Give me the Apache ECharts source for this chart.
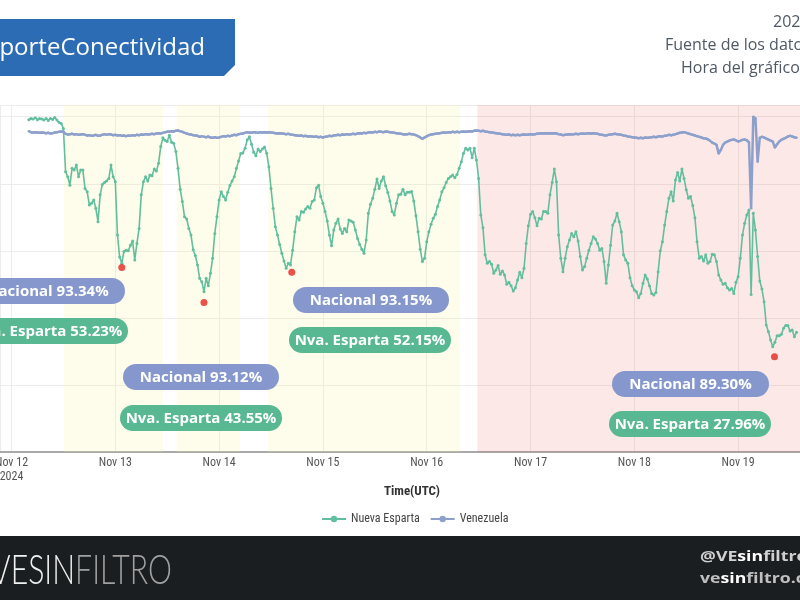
<!DOCTYPE html>
<html><head><meta charset="utf-8">
<script src="https://cdn.jsdelivr.net/npm/echarts@6/dist/echarts.min.js"></script>
<style>html,body{margin:0;padding:0;background:#fff}#c{width:800px;height:600px}</style>
</head><body><div id="c"></div>
<script>
// ---- data ----
const seriesStart = '2024-11-12T04:00:00Z';
const stepMinutes = 30;
const nuevaEsparta = [
99.1,99.5,99.3,99.7,99.1,99.5,99.3,99.0,99.5,98.9,99.5,99.2,99.8,99.0,98.3,98.0,
96.5,83.6,82.1,79.6,84.6,84.1,85.6,82.1,84.1,84.1,78.6,77.6,73.7,74.2,75.2,72.7,
68.7,76.7,79.8,80.4,80.8,81.6,85.6,82.1,80.6,64.7,58.2,56.3,59.8,60.2,60.0,61.7,
62.9,57.3,62.2,66.7,76.7,80.6,82.1,80.8,82.6,82.4,84.4,83.8,86.1,91.1,93.7,93.0,
92.6,94.5,92.4,92.1,89.6,84.6,78.4,74.7,70.2,69.5,66.7,64.7,60.3,58.6,55.8,51.8,
50.8,47.8,51.8,49.6,53.3,57.8,65.2,70.2,75.2,77.6,76.2,75.2,77.5,79.5,80.8,82.1,
84.6,86.8,89.0,89.2,90.6,93.1,94.0,91.8,89.4,88.4,90.4,89.6,90.4,91.0,89.1,85.1,
78.6,72.7,67.2,64.7,61.9,59.3,57.0,54.8,56.3,55.8,60.2,65.7,70.2,69.2,71.7,71.5,
72.5,73.2,72.7,74.7,75.2,78.8,79.6,76.2,74.2,71.7,68.9,64.7,61.5,66.2,68.2,69.5,
66.5,65.2,66.7,65.7,69.2,68.9,68.5,66.2,63.7,61.9,60.5,59.3,63.2,71.2,73.9,75.7,
78.4,81.4,78.6,80.8,82.1,79.4,77.4,74.9,71.7,70.7,74.2,76.7,76.9,78.4,76.7,77.5,
77.5,77.7,74.9,70.5,65.7,60.5,56.8,57.8,62.7,65.7,67.9,69.7,70.9,73.2,75.2,77.6,
78.8,80.4,81.6,82.1,82.6,81.8,82.8,84.6,86.6,89.1,90.6,90.1,90.6,87.8,90.6,87.1,
81.6,70.7,66.9,58.8,56.3,56.8,56.0,53.3,54.3,55.6,53.0,54.0,52.8,50.0,50.6,49.6,
48.0,49.0,51.3,53.6,52.0,54.8,62.2,67.5,70.9,71.7,69.9,67.5,69.7,69.5,71.7,71.7,
71.2,76.7,80.4,84.4,80.6,64.7,57.8,53.8,57.8,61.2,63.2,65.2,64.2,65.7,62.9,58.3,
54.3,55.3,57.8,60.2,62.2,64.2,63.5,62.2,60.2,60.7,56.8,50.3,55.8,61.7,67.7,68.9,
71.2,68.7,65.7,58.8,57.3,56.3,52.0,49.6,48.3,47.8,46.0,47.3,50.3,52.8,51.6,49.6,
47.3,46.8,47.6,53.8,60.0,62.7,67.7,71.7,75.7,77.6,74.9,81.1,83.4,80.8,84.4,81.6,
78.2,75.7,76.2,73.5,69.9,62.7,57.8,58.3,57.0,58.8,56.3,56.8,59.0,58.8,56.8,52.8,
51.3,50.0,50.3,49.0,48.3,48.8,47.3,50.6,52.3,57.8,64.7,68.2,70.7,72.2,47.0,71.2,
66.2,58.3,51.0,48.6,44.8,37.9,35.9,33.4,31.4,32.7,34.7,34.7,35.1,36.9,37.7,37.7,
36.1,36.4,34.4,35.7
];
const venezuela = [
95.7,95.4,95.3,95.4,95.3,95.2,95.3,95.2,95.1,95.2,95.0,95.1,95.3,95.4,95.5,95.6,
95.5,94.9,94.7,94.8,94.9,94.7,94.8,94.6,94.7,94.8,94.6,94.4,94.5,94.3,94.4,94.6,
94.3,94.4,94.6,94.8,94.6,94.8,94.7,94.5,94.6,94.4,94.5,94.3,94.4,94.2,94.4,94.3,
94.5,94.4,94.6,94.5,94.7,94.6,94.8,94.7,94.8,94.9,94.8,95.0,95.1,95.0,95.2,95.4,
95.5,95.6,95.7,95.6,95.8,95.9,95.7,95.5,95.2,95.0,94.8,94.7,94.5,94.4,94.3,94.0,
94.2,94.0,93.9,94.1,93.8,93.7,93.9,93.7,93.8,94.0,94.2,94.1,94.3,94.2,94.4,94.6,
94.5,94.8,94.9,95.0,95.2,95.4,95.3,95.2,95.4,95.3,95.2,95.4,95.3,95.4,95.3,95.4,
95.3,95.2,95.1,95.0,95.1,95.0,94.9,94.8,94.9,94.7,94.6,94.5,94.4,94.3,94.4,94.2,
94.3,94.1,94.2,94.1,94.0,94.1,93.9,94.0,93.8,94.0,94.1,94.3,94.2,94.4,94.5,94.6,
94.5,94.7,94.6,94.8,94.7,94.8,94.9,94.8,95.0,95.1,95.0,95.2,95.1,95.3,95.4,95.3,
95.5,95.4,95.6,95.5,95.4,95.6,95.5,95.4,95.3,95.2,95.1,95.0,94.9,94.8,94.7,94.8,
94.9,94.8,94.7,94.5,94.2,93.8,93.4,93.8,94.2,94.5,94.7,94.8,94.9,95.0,95.1,95.2,
95.3,95.2,95.4,95.3,95.5,95.4,95.5,95.4,95.5,95.6,95.5,95.6,95.7,95.6,95.8,95.9,
95.8,95.7,95.8,95.6,95.5,95.4,95.3,95.2,95.1,95.0,94.9,94.8,94.7,94.6,94.7,94.5,
94.6,94.5,94.6,94.5,94.6,94.7,94.6,94.7,94.8,94.7,94.8,94.9,95.0,95.1,95.0,95.1,
95.0,95.1,95.0,95.1,95.0,94.8,94.7,94.5,94.6,94.7,94.8,94.7,94.8,94.9,94.8,94.9,
95.0,94.9,95.0,95.1,95.0,95.1,95.0,94.9,94.7,94.6,94.5,94.4,94.6,94.7,94.8,94.9,
94.8,94.7,94.6,94.4,94.3,94.1,94.0,93.9,93.8,93.7,93.6,93.7,93.6,93.8,93.7,93.8,
93.9,94.0,93.9,94.1,94.2,94.1,94.3,94.4,94.6,94.5,94.6,94.8,95.0,95.2,95.3,95.4,
95.2,95.0,94.8,94.6,94.4,94.2,94.0,93.8,93.6,93.5,93.3,92.8,92.3,92.0,91.6,89.0,
90.1,91.6,92.3,92.6,92.9,93.1,93.2,93.0,92.6,92.8,93.1,93.2,93.0,92.4,72.7,100.0,
99.5,86.6,93.7,94.0,93.8,93.5,93.2,92.9,92.6,90.8,91.8,92.6,93.1,93.4,93.7,94.1,
94.3,94.1,93.9,93.7
];
const minTimes = ['2024-11-13T01:30:00Z','2024-11-13T20:30:00Z','2024-11-14T16:48:00Z','2024-11-19T08:24:00Z'];
const minValues = [55.0, 44.6, 53.6, 28.4];
const nacionalLabels = ['Nacional 93.34%','Nacional 93.12%','Nacional 93.15%','Nacional 89.30%'];
const espartaLabels = ['Nva. Esparta 53.23%','Nva. Esparta 43.55%','Nva. Esparta 52.15%','Nva. Esparta 27.96%'];
const yellowPeriods = [['2024-11-12T12:06:00Z','2024-11-13T11:00:00Z'],['2024-11-13T14:12:00Z','2024-11-14T04:48:00Z'],['2024-11-14T11:18:00Z','2024-11-16T07:42:00Z']];
const pinkPeriods = [['2024-11-16T11:42:00Z','2024-11-19T14:18:00Z']];
const monthNames = ['Jan','Feb','Mar','Apr','May','Jun','Jul','Aug','Sep','Oct','Nov','Dec'];
const firstTickYear = '2024';
const xMin = '2024-11-11T21:20:30Z';
const xMax = '2024-11-19T14:18:00Z';

// ---- build ----
const t0 = Date.parse(seriesStart);
const step = stepMinutes * 60000;
const neData = nuevaEsparta.map((v, i) => [t0 + i * step, v]);
const veData = venezuela.map((v, i) => [t0 + i * step, v]);
const dots = minTimes.map((t, i) => [Date.parse(t), minValues[i]]);
const areas = yellowPeriods.map(p => [{xAxis: Date.parse(p[0]), itemStyle: {color: 'rgba(250,240,150,0.2)'}}, {xAxis: Date.parse(p[1])}])
  .concat(pinkPeriods.map(p => [{xAxis: Date.parse(p[0]), itemStyle: {color: 'rgba(240,50,50,0.11)'}}, {xAxis: Date.parse(p[1])}]));

const NARROW = '"Liberation Sans Narrow","Arial Narrow","Roboto Condensed","Liberation Sans",sans-serif';
const NAC = '#8597cc', NES = '#58b891';

function pill(x, y, w, text, color) {
  return {type: 'group', z: 100, children: [
    {type: 'rect', z: 100, shape: {x: x, y: y, width: w, height: 26, r: 13}, style: {fill: color}},
    {type: 'text', z: 101, style: {text: text, x: x + w / 2, y: y + 13.5, align: 'center', verticalAlign: 'middle', fill: '#fff', font: 'bold 15px "Open Sans", sans-serif'}}
  ]};
}

const chart = echarts.init(document.getElementById('c'), null, {renderer: 'canvas'});
chart.setOption({
  animation: false,
  useUTC: true,
  backgroundColor: '#fff',
  grid: {left: 0, right: 0, top: 105, bottom: 148, outerBoundsMode: 'none', containLabel: false},
  xAxis: {
    type: 'time', min: Date.parse(xMin), max: Date.parse(xMax),
    minInterval: 86400000, maxInterval: 86400000,
    axisLine: {show: true, lineStyle: {color: '#a9a9a9', width: 2}},
    axisTick: {show: false},
    splitLine: {show: true, lineStyle: {color: '#ececec', width: 1}},
    axisLabel: {
      showMinLabel: false, showMaxLabel: false, hideOverlap: false,
      color: '#555', fontSize: 12, fontFamily: NARROW, margin: 4, lineHeight: 14,
      formatter: function (val) {
        const d = new Date(val);
        if (d.getUTCHours() !== 0 || d.getUTCMinutes() !== 0) return '';
        const s = monthNames[d.getUTCMonth()] + ' ' + d.getUTCDate();
        return d.getUTCDate() === 12 ? s + '\n' + firstTickYear : s;
      }
    }
  },
  yAxis: {
    type: 'value', min: 0, max: 103.5, interval: 20,
    axisLabel: {show: false}, axisLine: {show: false}, axisTick: {show: false},
    splitLine: {lineStyle: {color: '#ececec', width: 1}}
  },
  legend: {
    left: 316, top: 508, itemWidth: 24, itemHeight: 8, itemGap: 10,
    data: ['Nueva Esparta', 'Venezuela'],
    textStyle: {fontSize: 12, color: '#444', fontFamily: NARROW}
  },
  series: [
    {name: 'Nueva Esparta', type: 'line', data: neData, symbol: 'circle', symbolSize: 3, showSymbol: true,
     itemStyle: {color: '#62bf9e'}, lineStyle: {width: 1.6, color: '#62bf9e'}, z: 2,
     markArea: {silent: true, data: areas}},
    {name: 'Venezuela', type: 'line', data: veData, symbol: 'circle', symbolSize: 2.5, showSymbol: true,
     itemStyle: {color: '#8da0cb'}, lineStyle: {width: 2.5, color: '#8da0cb'}, z: 3},
    {name: 'Mínimo', type: 'scatter', data: dots, symbolSize: 7, itemStyle: {color: '#e5261f'}, z: 5}
  ],
  graphic: [
    {type: 'polygon', z: 100, shape: {points: [[0, 19], [235, 19], [235, 65], [224, 76], [0, 76]]}, style: {fill: '#2b6cb4'}},
    {type: 'text', z: 101, style: {text: '#ReporteConectividad', x: 205, y: 48, align: 'right', verticalAlign: 'middle', fill: '#fff', font: '24px "Open Sans", sans-serif'}},
    {type: 'text', z: 100, style: {text: '2024', x: 773, y: 22, align: 'left', verticalAlign: 'middle', fill: '#4f5964', font: '16px "Open Sans", sans-serif'}},
    {type: 'text', z: 100, style: {text: 'Fuente de los datos', x: 665, y: 45, align: 'left', verticalAlign: 'middle', fill: '#4f5964', font: '16px "Open Sans", sans-serif'}},
    {type: 'text', z: 100, style: {text: 'Hora del gráfico', x: 681, y: 68, align: 'left', verticalAlign: 'middle', fill: '#4f5964', font: '16px "Open Sans", sans-serif'}},
    pill(-30, 278, 155, nacionalLabels[0], NAC),
    pill(-34, 318, 162, espartaLabels[0], NES),
    pill(123, 364, 156, nacionalLabels[1], NAC),
    pill(120, 405, 162, espartaLabels[1], NES),
    pill(293, 287, 156, nacionalLabels[2], NAC),
    pill(289, 327, 162, espartaLabels[2], NES),
    pill(612, 371, 157, nacionalLabels[3], NAC),
    pill(609, 411, 162, espartaLabels[3], NES),
    {type: 'text', z: 100, style: {text: 'Time(UTC)', x: 412, y: 492, align: 'center', verticalAlign: 'middle', fill: '#333', font: 'bold 13px ' + NARROW}},
    {type: 'rect', z: 100, shape: {x: 0, y: 536, width: 800, height: 64}, style: {fill: '#1b1e21'}},
    {type: 'text', z: 101, x: 172, y: 570, scaleX: 0.72, style: {text: '{a|VESIN}{b|FILTRO}', x: 0, y: 0, align: 'right', verticalAlign: 'middle',
      rich: {a: {fill: '#f0f0f0', font: '300 42px Lato, sans-serif'}, b: {fill: '#a0a0a0', font: '300 42px Lato, sans-serif'}}}},
    {type: 'text', z: 101, x: 700, y: 557, scaleX: 1.18, style: {text: '{g|@VE}{w|sin}{g|filtro}', x: 0, y: 0, align: 'left', verticalAlign: 'middle',
      rich: {g: {fill: '#d0d0d0', font: 'bold 15px "Open Sans", sans-serif'}, w: {fill: '#ffffff', font: 'bold 15px "Open Sans", sans-serif'}}}},
    {type: 'text', z: 101, x: 700, y: 579, scaleX: 1.18, style: {text: '{g|ve}{w|sin}{g|filtro.com}', x: 0, y: 0, align: 'left', verticalAlign: 'middle',
      rich: {g: {fill: '#c0c0c0', font: 'bold 15px "Open Sans", sans-serif'}, w: {fill: '#ffffff', font: 'bold 15px "Open Sans", sans-serif'}}}}
  ]
});
</script></body></html>
